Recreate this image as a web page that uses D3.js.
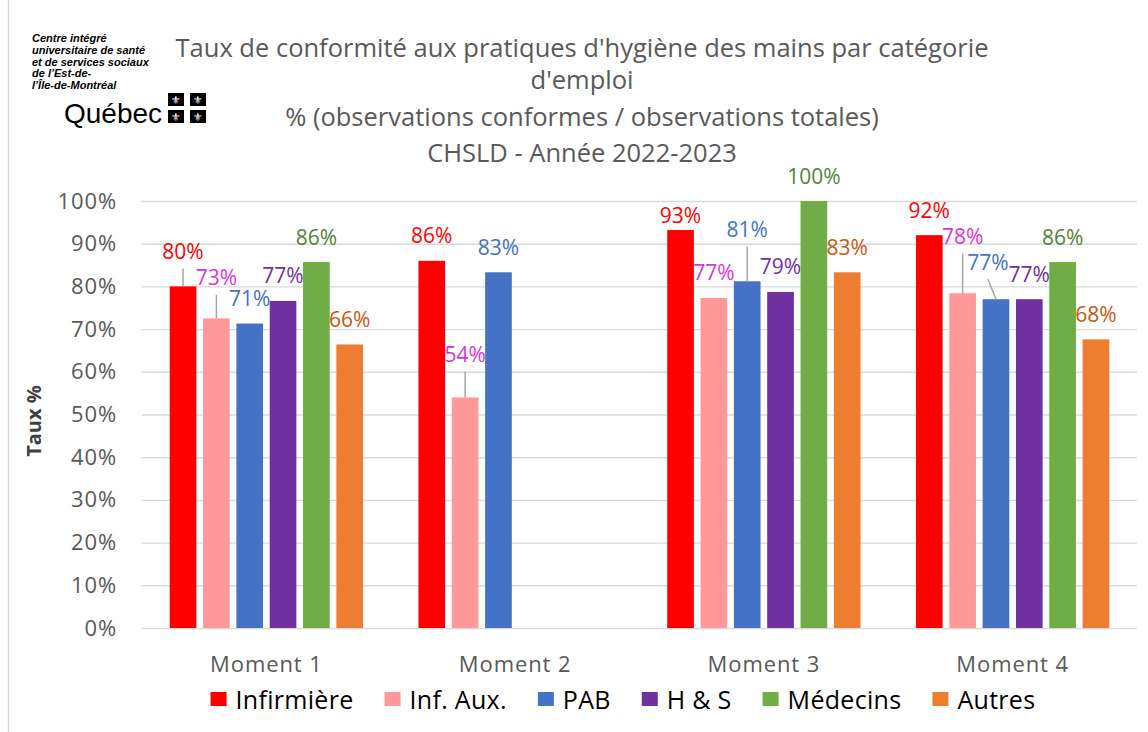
<!DOCTYPE html>
<html><head><meta charset="utf-8">
<script src="https://cdnjs.cloudflare.com/ajax/libs/d3/7.8.5/d3.min.js"></script>
<style>
html,body{margin:0;padding:0;background:#fff;}
svg{display:block;font-family:"Open Sans","Noto Sans",sans-serif;}
</style></head>
<body>
<svg id="chart" width="1148" height="732"></svg>
<script>
// ---- data ----
const categories = ["Moment 1", "Moment 2", "Moment 3", "Moment 4"];
const seriesNames = ["Infirmière", "Inf. Aux.", "PAB", "H & S", "Médecins", "Autres"];
const infirmiere = [80, 86, 93.2, 92];
const infAux = [72.5, 54, 77.3, 78.4];
const pab = [71.3, 83.3, 81.2, 77];
const hs = [76.6, null, 78.7, 77];
const medecins = [85.7, null, 100, 85.7];
const autres = [66.4, null, 83.3, 67.6];
const yTicks = [0, 10, 20, 30, 40, 50, 60, 70, 80, 90, 100];
const titleLines = [
  "Taux de conformité aux pratiques d'hygiène des mains par catégorie",
  "d'emploi",
  "% (observations conformes / observations totales)",
  "CHSLD - Année 2022-2023"
];
const logoLines = ["Centre intégré", "universitaire de santé", "et de services sociaux", "de l’Est-de-", "l’Île-de-Montréal"];

// ---- styling / layout ----
const barColors = ["#FF0000", "#FF9999", "#4472C4", "#7030A0", "#70AD47", "#ED7D31"];
const labelColors = ["#FF0000", "#D935D9", "#4472C4", "#7030A0", "#548235", "#C55A11"];
// manual nudges of data labels [dx, dy] keyed "series-category"
const labelNudges = {"0-0": [0, -10], "1-0": [0, -15.5], "1-1": [0, -18], "0-2": [0, 10.5],
                     "2-2": [0, -26.5], "1-3": [0, -32], "2-3": [-8, -12]};

const seriesValues = [infirmiere, infAux, pab, hs, medecins, autres];
const svg = d3.select("#chart");
const plotL = 142, plotR = 1137, plotT = 201, plotB = 628;
const textGray = "#595959";

const x0 = d3.scaleBand().domain(categories).range([plotL, plotR]).paddingInner(0.196).paddingOuter(0.098);
const x1 = d3.scaleBand().domain(seriesNames).range([0, x0.bandwidth()]).paddingInner(0.2).paddingOuter(0.1);
const y = d3.scaleLinear().domain([0, 100]).range([plotB, plotT]);

// chart frame left border
svg.append("line").attr("x1", 8.5).attr("x2", 8.5).attr("y1", 0).attr("y2", 732)
  .attr("stroke", "#d9d9d9").attr("stroke-width", 1.5);

// gridlines + y ticks
const yAxis = svg.append("g").attr("transform", `translate(${plotL},0)`)
  .call(d3.axisLeft(y).tickValues(yTicks).tickSize(-(plotR - plotL)).tickPadding(25).tickFormat(d => d + "%"));
yAxis.select(".domain").remove();
yAxis.selectAll(".tick line").attr("stroke", "#d9d9d9").attr("stroke-width", 1.4);
yAxis.selectAll(".tick text").attr("fill", textGray).style("font-size", "22px")
  .style("letter-spacing", "0.9px").style("font-family", "Open Sans");

// x axis labels
const xAxis = svg.append("g").attr("transform", `translate(0,${plotB})`)
  .call(d3.axisBottom(x0).tickSize(0).tickPadding(28));
xAxis.select(".domain").remove();
xAxis.selectAll(".tick text").attr("fill", textGray).style("font-size", "22px")
  .style("letter-spacing", "0.9px").style("font-family", "Open Sans");

// bars
const flat = [];
seriesValues.forEach((vals, si) => vals.forEach((v, ci) => {
  if (v !== null) flat.push({si, ci, v, cat: categories[ci], name: seriesNames[si]});
}));
svg.append("g").selectAll("rect").data(flat).join("rect")
  .attr("x", d => x0(d.cat) + x1(d.name))
  .attr("y", d => y(d.v))
  .attr("width", x1.bandwidth())
  .attr("height", d => y(0) - y(d.v))
  .attr("fill", d => barColors[d.si]);

// data labels + leader lines
const lab = svg.append("g");
flat.forEach(d => {
  const bx = x0(d.cat) + x1(d.name) + x1.bandwidth() / 2;
  const by = y(d.v);
  const n = labelNudges[d.si + "-" + d.ci] || [0, 0];
  const lx = bx + n[0];
  const lc = by - 25 + n[1];
  if (n[1] < -5) {
    lab.append("line").attr("x1", lx).attr("y1", lc + 17).attr("x2", bx).attr("y2", by)
      .attr("stroke", "#a6a6a6").attr("stroke-width", 1.5);
  }
  lab.append("text").attr("x", lx).attr("y", lc + 7.5).attr("text-anchor", "middle")
    .attr("fill", labelColors[d.si]).style("font-size", "21px")
    .text(Math.round(d.v) + "%");
});

// y axis title
svg.append("text").attr("transform", "translate(41,421) rotate(-90)").attr("text-anchor", "middle")
  .attr("fill", "#404040").style("font-size", "20px").style("font-weight", "bold").text("Taux %");

// title
const titleBaselines = [57, 89, 126, 162];
svg.append("g").selectAll("text").data(titleLines).join("text")
  .attr("x", 582).attr("y", (d, i) => titleBaselines[i]).attr("text-anchor", "middle")
  .attr("fill", textGray).style("font-size", "25.5px").text(d => d);

// legend
const leg = svg.append("g");
const legItems = [];
let cursor = 0;
seriesNames.forEach((name, i) => {
  const g = leg.append("g");
  g.append("rect").attr("x", 0).attr("y", -7).attr("width", 16).attr("height", 14).attr("fill", barColors[i]);
  const t = g.append("text").attr("x", 25).attr("y", 9.5).attr("fill", "#000").style("font-size", "25px")
    .style("letter-spacing", "0.3px").text(name);
  const w = 25 + t.node().getComputedTextLength();
  legItems.push({g, off: cursor});
  cursor += w + 31;
});
const legWidth = cursor - 31;
const legStart = 623 - legWidth / 2;
legItems.forEach(it => it.g.attr("transform", `translate(${legStart + it.off},699)`));

// logo
const logo = svg.append("g");
logo.selectAll("text").data(logoLines).join("text")
  .attr("x", 32).attr("y", (d, i) => 42 + i * 11.8)
  .style("font-family", "Liberation Sans, Arial, sans-serif").style("font-size", "11px")
  .style("font-weight", "bold").style("font-style", "italic").attr("fill", "#000").text(d => d);
logo.append("text").attr("x", 64).attr("y", 123).style("font-family", "Liberation Sans, Arial, sans-serif")
  .style("font-size", "28px").attr("fill", "#000").text("Québec");
const flagCells = [[168, 93], [190, 93], [168, 110], [190, 110]];
flagCells.forEach(c => {
  logo.append("rect").attr("x", c[0]).attr("y", c[1]).attr("width", 16).attr("height", 13).attr("fill", "#000");
  logo.append("text").attr("x", c[0] + 8).attr("y", c[1] + 11).attr("text-anchor", "middle")
    .style("font-family", "DejaVu Sans").style("font-size", "11px").attr("fill", "#fff").text("⚜");
});
</script>
</body></html>
